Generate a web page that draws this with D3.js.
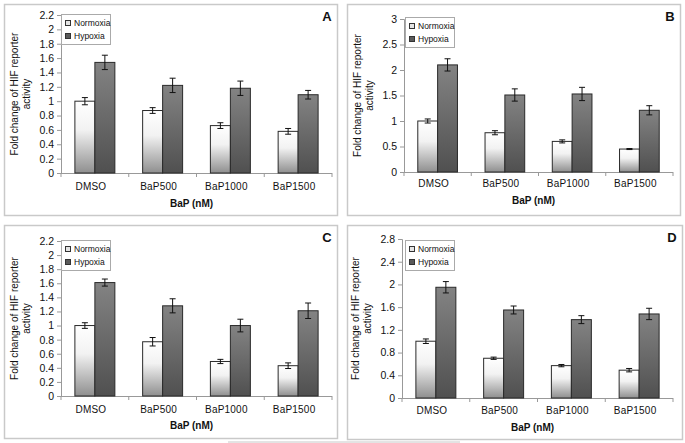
<!DOCTYPE html>
<html>
<head>
<meta charset="utf-8">
<script src="https://cdnjs.cloudflare.com/ajax/libs/d3/7.8.5/d3.min.js"></script>
<style>
body { margin: 0; background: #fff; }
text { font-family: "Liberation Sans", Arial, sans-serif; fill: #111; }
</style>
</head>
<body>
<script>
var categories = ["DMSO", "BaP500", "BaP1000", "BaP1500"];
var series = ["Normoxia", "Hypoxia"];

// panel A
var normA = [1.0, 0.87, 0.66, 0.58];
var normErrA = [0.05, 0.04, 0.04, 0.04];
var hypA = [1.54, 1.22, 1.18, 1.09];
var hypErrA = [0.1, 0.1, 0.1, 0.06];
var ticksA = [0, 0.2, 0.4, 0.6, 0.8, 1, 1.2, 1.4, 1.6, 1.8, 2, 2.2];

// panel B
var normB = [1.0, 0.77, 0.6, 0.45];
var normErrB = [0.04, 0.04, 0.03, 0.01];
var hypB = [2.1, 1.51, 1.53, 1.21];
var hypErrB = [0.12, 0.12, 0.13, 0.09];
var ticksB = [0, 0.5, 1, 1.5, 2, 2.5, 3];

// panel C
var normC = [1.0, 0.77, 0.49, 0.43];
var normErrC = [0.04, 0.06, 0.03, 0.04];
var hypC = [1.61, 1.28, 1.0, 1.21];
var hypErrC = [0.05, 0.1, 0.09, 0.11];
var ticksC = [0, 0.2, 0.4, 0.6, 0.8, 1, 1.2, 1.4, 1.6, 1.8, 2, 2.2];

// panel D
var normD = [1.0, 0.7, 0.57, 0.49];
var normErrD = [0.04, 0.02, 0.02, 0.03];
var hypD = [1.95, 1.55, 1.38, 1.48];
var hypErrD = [0.1, 0.07, 0.07, 0.1];
var ticksD = [0, 0.4, 0.8, 1.2, 1.6, 2, 2.4, 2.8];

var w = 685, h = 443;

var svg = d3.select("body").append("svg")
  .attr("width", w)
  .attr("height", h);

var defs = svg.append("defs");
var gN = defs.append("linearGradient").attr("id", "gradN")
  .attr("x1", 0).attr("y1", 0).attr("x2", 0).attr("y2", 1);
gN.append("stop").attr("offset", "0%").attr("stop-color", "#ffffff");
gN.append("stop").attr("offset", "40%").attr("stop-color", "#f2f2f2");
gN.append("stop").attr("offset", "100%").attr("stop-color", "#8f8f8f");
var gH = defs.append("linearGradient").attr("id", "gradH")
  .attr("x1", 0).attr("y1", 0).attr("x2", 0).attr("y2", 1);
gH.append("stop").attr("offset", "0%").attr("stop-color", "#838383");
gH.append("stop").attr("offset", "100%").attr("stop-color", "#505050");

var panels = [
  { letter: "A", norm: normA, normErr: normErrA, hyp: hypA, hypErr: hypErrA, ticks: ticksA,
    frame: [4, 4, 337, 215], plot: [61, 332, 15, 173], xlab: 190, xtitle: 207, legend: [61, 14] },
  { letter: "B", norm: normB, normErr: normErrB, hyp: hypB, hypErr: hypErrB, ticks: ticksB,
    frame: [347, 4, 680, 215], plot: [404, 673, 19, 172], xlab: 187, xtitle: 204, legend: [405, 17] },
  { letter: "C", norm: normC, normErr: normErrC, hyp: hypC, hypErr: hypErrC, ticks: ticksC,
    frame: [4, 225, 337, 438], plot: [61, 332, 241, 396], xlab: 413, xtitle: 429, legend: [61, 240] },
  { letter: "D", norm: normD, normErr: normErrD, hyp: hypD, hypErr: hypErrD, ticks: ticksD,
    frame: [347, 225, 682, 439], plot: [402, 673, 239, 398], xlab: 414, xtitle: 431, legend: [405, 240] }
];

// stray rule along the bottom edge
svg.append("line")
  .attr("x1", 228).attr("x2", 460).attr("y1", 442).attr("y2", 442)
  .attr("stroke", "#c8c8c8");

panels.forEach(drawPanel);

function drawPanel(p) {
  var g = svg.append("g");

  g.append("rect")
    .attr("x", p.frame[0] + 0.5).attr("y", p.frame[1] + 0.5)
    .attr("width", p.frame[2] - p.frame[0]).attr("height", p.frame[3] - p.frame[1])
    .attr("fill", "#fff").attr("stroke", "#c9c9c9").attr("stroke-width", 1.5);

  var x = d3.scaleBand().domain(categories)
    .range([p.plot[0], p.plot[1]])
    .paddingInner(0.41).paddingOuter(0.205);
  var xs = d3.scaleBand().domain(series).range([0, x.bandwidth()]);
  var y = d3.scaleLinear()
    .domain([0, p.ticks[p.ticks.length - 1]])
    .range([p.plot[3], p.plot[2]]);

  // y axis
  var yAxis = g.append("g")
    .attr("transform", "translate(" + p.plot[0] + ",0)")
    .call(d3.axisLeft(y).tickValues(p.ticks).tickSize(4).tickPadding(3)
      .tickFormat(function(d) { return d3.format("")(+d.toFixed(1)); }));
  yAxis.select(".domain").attr("stroke", "#999");
  yAxis.selectAll(".tick line").attr("stroke", "#999");
  yAxis.selectAll("text").style("font-size", "10.5px").attr("fill", "#111");

  // x axis
  g.append("line")
    .attr("x1", p.plot[0]).attr("x2", p.plot[1])
    .attr("y1", p.plot[3] + 0.5).attr("y2", p.plot[3] + 0.5)
    .attr("stroke", "#999");
  var bounds = d3.range(categories.length + 1).map(function(i) {
    return p.plot[0] + i * x.step();
  });
  g.selectAll(".xt").data(bounds).enter().append("line")
    .attr("x1", function(d) { return d; }).attr("x2", function(d) { return d; })
    .attr("y1", p.plot[3]).attr("y2", p.plot[3] + 4)
    .attr("stroke", "#999");

  g.selectAll(".xl").data(categories).enter().append("text")
    .attr("x", function(d) { return x(d) + x.bandwidth() / 2 - 4; })
    .attr("y", p.xlab)
    .attr("text-anchor", "middle")
    .style("font-size", "10px")
    .style("letter-spacing", "0.2px")
    .text(function(d) { return d; });

  g.append("text")
    .attr("x", (p.plot[0] + p.plot[1]) / 2 - 5)
    .attr("y", p.xtitle)
    .attr("text-anchor", "middle")
    .style("font-size", "10px")
    .style("font-weight", "bold")
    .attr("fill", "#222")
    .text("BaP (nM)");

  // y title (two lines)
  var cy = (p.plot[2] + p.plot[3]) / 2;
  var tx = p.plot[0] - 43;
  var yt = g.append("text")
    .attr("transform", "translate(" + tx + "," + cy + ") rotate(-90)")
    .attr("text-anchor", "middle")
    .style("font-size", "10px");
  yt.append("tspan").attr("x", 0).attr("y", 0).text("Fold change of HIF reporter");
  yt.append("tspan").attr("x", 0).attr("y", 12).text("activity");

  // bars
  var rows = categories.map(function(c, i) {
    return [
      { cat: c, s: "Normoxia", v: p.norm[i], e: p.normErr[i] },
      { cat: c, s: "Hypoxia", v: p.hyp[i], e: p.hypErr[i] }
    ];
  });
  var flat = d3.merge(rows);

  g.selectAll(".bar").data(flat).enter().append("rect")
    .attr("x", function(d) { return x(d.cat) + xs(d.s); })
    .attr("y", function(d) { return y(d.v); })
    .attr("width", xs.bandwidth())
    .attr("height", function(d) { return y(0) - y(d.v); })
    .attr("fill", function(d) { return d.s == "Normoxia" ? "url(#gradN)" : "url(#gradH)"; })
    .attr("stroke", "#2a2a2a")
    .attr("stroke-width", 1);

  // error bars
  var eb = g.selectAll(".eb").data(flat).enter().append("g")
    .attr("stroke", "#111").attr("stroke-width", 1);
  eb.append("line")
    .attr("x1", function(d) { return x(d.cat) + xs(d.s) + xs.bandwidth() / 2; })
    .attr("x2", function(d) { return x(d.cat) + xs(d.s) + xs.bandwidth() / 2; })
    .attr("y1", function(d) { return y(d.v + d.e); })
    .attr("y2", function(d) { return y(d.v - d.e); });
  [1, -1].forEach(function(sign) {
    eb.append("line")
      .attr("x1", function(d) { return x(d.cat) + xs(d.s) + xs.bandwidth() / 2 - 3; })
      .attr("x2", function(d) { return x(d.cat) + xs(d.s) + xs.bandwidth() / 2 + 3; })
      .attr("y1", function(d) { return y(d.v + sign * d.e); })
      .attr("y2", function(d) { return y(d.v + sign * d.e); });
  });

  // legend
  var lg = g.append("g").attr("transform", "translate(" + p.legend[0] + "," + p.legend[1] + ")");
  lg.append("rect")
    .attr("x", 0.5).attr("y", 0.5).attr("width", 49).attr("height", 30)
    .attr("fill", "#fff").attr("stroke", "#aaa");
  series.forEach(function(s, i) {
    lg.append("rect")
      .attr("x", 4.5).attr("y", 6.5 + i * 13).attr("width", 5).attr("height", 5)
      .attr("fill", i == 0 ? "#e4e4e4" : "#5a5a5a")
      .attr("stroke", "#333");
    lg.append("text")
      .attr("x", 13).attr("y", 12 + i * 13)
      .style("font-size", "8.5px")
      .text(s);
  });

  // panel letter
  g.append("text")
    .attr("x", p.frame[2] - 10)
    .attr("y", p.frame[1] + 17)
    .attr("text-anchor", "middle")
    .style("font-size", "13px")
    .style("font-weight", "bold")
    .text(p.letter);
}
</script>
</body>
</html>
